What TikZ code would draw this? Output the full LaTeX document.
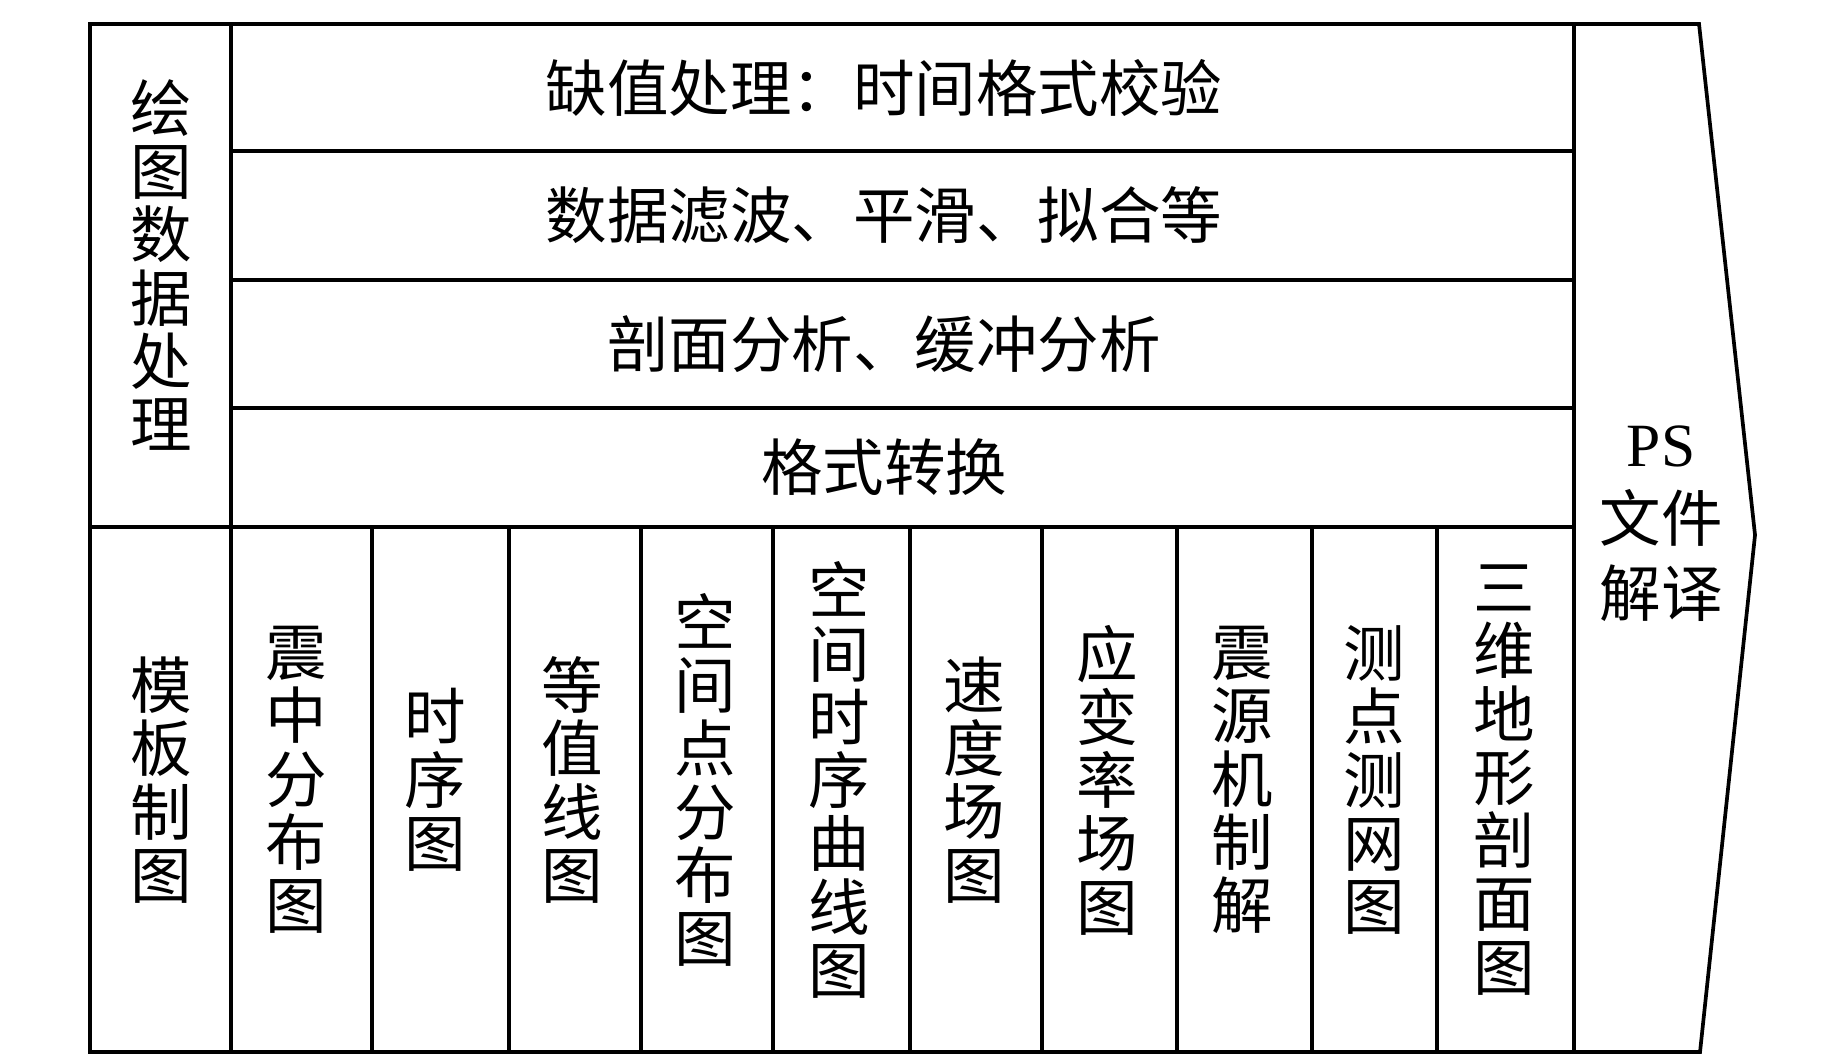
\documentclass[tikz,border=0pt]{standalone}
\usepackage{fontspec}
\setmainfont{Liberation Serif}
\newfontfamily\cjk{Noto Sans CJK SC}

\begin{document}
\begin{tikzpicture}[
  frame/.style={line width=1.3pt, line cap=rect},
  arrowline/.style={line width=1.05pt, line join=miter},
  rowtext/.style={font=\cjk\fontsize{17.5}{18}\selectfont, inner sep=0pt},
  coltext/.style={font=\cjk\fontsize{17.5}{18}\selectfont, align=center, inner sep=0pt},
  pstext/.style={font=\fontsize{17.5}{21.3}\selectfont, align=center, inner sep=0pt}
]
\useasboundingbox (0,0) rectangle (18.43,-10.63);

% outer frame and dividers
\draw[frame] (0.90,-0.24) rectangle (15.74,-10.52);
\draw[frame] (2.31,-0.24) -- (2.31,-10.52);
\draw[frame] (2.31,-1.51) -- (15.74,-1.51);
\draw[frame] (2.31,-2.80) -- (15.74,-2.80);
\draw[frame] (2.31,-4.08) -- (15.74,-4.08);
\draw[frame] (0.90,-5.27) -- (15.74,-5.27);

\draw[frame] (3.72,-5.27) -- (3.72,-10.52);
\draw[frame] (5.09,-5.27) -- (5.09,-10.52);
\draw[frame] (6.41,-5.27) -- (6.41,-10.52);
\draw[frame] (7.73,-5.27) -- (7.73,-10.52);
\draw[frame] (9.10,-5.27) -- (9.10,-10.52);
\draw[frame] (10.42,-5.27) -- (10.42,-10.52);
\draw[frame] (11.77,-5.27) -- (11.77,-10.52);
\draw[frame] (13.12,-5.27) -- (13.12,-10.52);
\draw[frame] (14.37,-5.27) -- (14.37,-10.52);

% output arrow
\draw[arrowline] (15.74,-0.24) -- (16.99,-0.24) -- (17.55,-5.35)
  -- (17.00,-10.52) -- (15.74,-10.52);

% data processing
\node[coltext] (prep) at (1.61,-2.65) {绘\\图\\数\\据\\处\\理};
\node[rowtext] (missing) at (8.84,-0.875) {缺值处理：时间格式校验};
\node[rowtext] (filter) at (8.84,-2.155) {数据滤波、平滑、拟合等};
\node[rowtext] (profile) at (8.84,-3.44) {剖面分析、缓冲分析};
\node[rowtext] (convert) at (8.84,-4.675) {格式转换};

% template plots
\node[coltext] (template) at (1.61,-7.80) {模\\板\\制\\图};
\node[coltext] (epic) at (2.96,-7.80) {震\\中\\分\\布\\图};
\node[coltext] (series) at (4.35,-7.80) {时\\序\\图};
\node[coltext] (contour) at (5.72,-7.80) {等\\值\\线\\图};
\node[coltext] (points) at (7.05,-7.80) {空\\间\\点\\分\\布\\图};
\node[coltext] (curves) at (8.39,-7.80) {空\\间\\时\\序\\曲\\线\\图};
\node[coltext] (velocity) at (9.74,-7.80) {速\\度\\场\\图};
\node[coltext] (strain) at (11.07,-7.80) {应\\变\\率\\场\\图};
\node[coltext] (focal) at (12.42,-7.80) {震\\源\\机\\制\\解};
\node[coltext] (network) at (13.74,-7.80) {测\\点\\测\\网\\图};
\node[coltext] (terrain) at (15.04,-7.80) {三\\维\\地\\形\\剖\\面\\图};

% ps output
\node[pstext] (psfile) at (16.61,-5.24) {PS\\{\cjk 文件}\\{\cjk 解译}};

\end{tikzpicture}
\end{document}
